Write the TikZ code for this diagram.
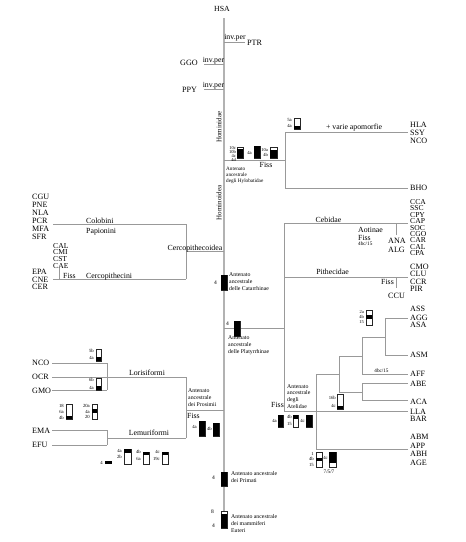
\documentclass[tikz,border=0pt]{standalone}
\usepackage{fontspec}
\setmainfont{Liberation Serif}
\tikzset{
  branch/.style={draw=gray!80, line width=0.8pt},
  stem/.style={draw=gray!60, line width=1.7pt},
  taxon/.style={font=\fontsize{8.1}{8}\selectfont, inner sep=0pt, anchor=west, text depth=0pt},
  group/.style={font=\fontsize{7.8}{8}\selectfont, inner sep=0pt, text depth=0pt},
  note/.style={font=\fontsize{5.8}{7}\selectfont, inner sep=0pt, align=left, anchor=north west},
  tag/.style={font=\fontsize{4.7}{5.5}\selectfont, inner sep=0pt, align=right, anchor=east},
  apo/.style={draw=black!85, line width=0.4pt, fill=white},
}
% x1, x2, y top, y bottom, black from, black to
\newcommand{\apobox}[6]{%
  \draw[apo] (#1,-#3) rectangle (#2,-#4);
  \fill[black] (#1,-#5) rectangle (#2,-#6);}
\begin{document}
\begin{tikzpicture}[x=1pt,y=1pt]
\useasboundingbox (0,0) rectangle (466,-542);
% tronco
\draw[stem] (224,-18) -- (224,-528);
\node[group] (hsa) at (222,-8.5) {HSA};
% Hominidae
\draw[branch] (224,-42) -- (245,-42);
\draw[branch] (204,-64) -- (224,-64);
\draw[branch] (204,-89) -- (224,-89);
\node[group, anchor=base] (per1) at (235,-39.5) {inv.per};
\node[group, anchor=base] (per2) at (213.5,-62) {inv.per};
\node[group, anchor=base] (per3) at (213.5,-87.5) {inv.per};
\node[taxon] (ptr) at (247,-42.5) {PTR};
\node[taxon] (ggo) at (180,-63) {GGO};
\node[taxon] (ppy) at (182,-89.5) {PPY};
\node[group, font=\fontsize{7}{7}\selectfont, rotate=90] (hominidae) at (219,-127) {Hominidae};
\node[group, font=\fontsize{7}{7}\selectfont, rotate=90] (hominoidea) at (219,-203) {Hominoidea};
% Hylobatidae
\draw[branch] (224,-160) -- (285,-160);
\draw[branch] (285,-132) -- (285,-188);
\draw[branch] (285,-132) -- (408,-132);
\draw[branch] (285,-188) -- (408,-188);
\foreach \n/\y in {HLA/124.5, SSY/132.5, NCO/140.5, BHO/187.5}
  \node[taxon] (h-\n) at (410,-\y) {\n};
\node[group] (apomorfie) at (354,-126.5) {+ varie apomorfie};
\apobox{294}{300}{118}{129}{126}{129}
\node[tag] (t-5a) at (292,-123) {5a\\4a};
\apobox{237}{243}{147}{158}{149}{158}
\node[tag, font=\fontsize{4.5}{3}\selectfont] (t-10c) at (236,-154) {10c\\10b\\4c\\4d};
\apobox{254}{260}{146}{158}{146}{158}
\node[tag] (t-4a) at (252,-153) {4a};
\apobox{270}{277}{147}{158}{150}{158}
\node[tag, font=\fontsize{4.5}{4.5}\selectfont] (t-10a) at (268,-152.5) {10a\\4b};
\node[group] (fiss-h) at (266,-165) {Fiss};
\node[note, font=\fontsize{5.2}{6}\selectfont] (ant-h) at (226,-167) {Antenato\\ancestrale\\degli Hylobatidae};
% Cercopithecoidea
\draw[branch] (186,-251) -- (224,-251);
\draw[branch] (186,-224) -- (186,-279);
\draw[branch] (53,-224) -- (186,-224);
\draw[branch] (53,-279) -- (186,-279);
\draw[branch] (59,-268) -- (59,-279);
\node[group] (cercopithecoidea) at (195,-247.5) {Cercopithecoidea};
\node[group, anchor=west] (colobini) at (86,-220.5) {Colobini};
\node[group, anchor=west] (papionini) at (86,-230.5) {Papionini};
\node[group, anchor=west] (cercopithecini) at (86,-276) {Cercopithecini};
\node[group, anchor=west] (fiss-c) at (63,-276) {Fiss};
\foreach \n/\y in {CGU/197, PNE/205, NLA/213, PCR/221, MFA/229, SFR/237, EPA/272, CNE/279.5, CER/287}
  \node[taxon] (c-\n) at (32,-\y) {\n};
\foreach \n/\y in {CAL/245.7, CMI/252.3, CST/259, CAE/265.5}
  \node[taxon, font=\fontsize{7.6}{7}\selectfont] (c-\n) at (53,-\y) {\n};
% Catarrhinae
\apobox{221}{227}{275}{290}{275}{290}
\node[tag, font=\fontsize{5.5}{6}\selectfont] (t-cat) at (217,-283) {4};
\node[note] (ant-cat) at (229,-272) {Antenato\\ancestrale\\delle Catarrhinae};
% Platyrrhinae
\draw[branch] (224,-328) -- (284,-328);
\draw[branch] (284,-223) -- (284,-411);
\draw[branch] (284,-223) -- (408,-223);
\draw[branch] (284,-277) -- (408,-277);
\draw[branch] (396,-223) -- (396,-235);
\draw[branch] (396,-277) -- (396,-288);
\draw[branch] (284,-411) -- (408,-411);
\node[group] (cebidae) at (328.5,-219.5) {Cebidae};
\node[group] (pithecidae) at (332.5,-272) {Pithecidae};
\node[group, anchor=west] (aotinae) at (358,-229.5) {Aotinae};
\node[group, anchor=west] (fiss-a) at (358,-238) {Fiss};
\node[group, anchor=west, font=\fontsize{5.2}{6}\selectfont] (t-aot) at (358,-243.5) {4bc/15};
\node[taxon] (p-ANA) at (388,-241) {ANA};
\node[taxon] (p-ALG) at (388,-249.5) {ALG};
\node[group] (fiss-p) at (387.5,-281.5) {Fiss};
\node[taxon] (p-CCU) at (388,-295.5) {CCU};
\foreach \n [count=\i from 0] in {CCA,SSC,CPY,CAP,SOC,CGO,CAR,CAL,CPA}
  \node[taxon, font=\fontsize{7.6}{7}\selectfont] (p-\n) at (410,-201.7-6.45*\i) {\n};
\foreach \n/\y in {CMO/266.7, CLU/274.3, CCR/281.7, PIR/289}
  \node[taxon] (p-\n) at (410,-\y) {\n};
\apobox{234}{240}{321}{336}{321}{336}
\node[tag, font=\fontsize{5.5}{6}\selectfont] (t-pla) at (229,-324) {4};
\node[note] (ant-pla) at (228,-335) {Antenato\\ancestrale\\delle Platyrrhinae};
% Atelidae
\draw[branch] (316,-374) -- (316,-449);
\draw[branch] (316,-374) -- (339,-374);
\draw[branch] (339,-356) -- (339,-392);
\draw[branch] (339,-356) -- (362,-356);
\draw[branch] (362,-337) -- (362,-374);
\draw[branch] (362,-337) -- (385,-337);
\draw[branch] (385,-318) -- (385,-355);
\draw[branch] (385,-318) -- (408,-318);
\draw[branch] (385,-355) -- (408,-355);
\draw[branch] (362,-374) -- (408,-374);
\draw[branch] (339,-392) -- (362,-392);
\draw[branch] (362,-383) -- (362,-400);
\draw[branch] (362,-383) -- (408,-383);
\draw[branch] (362,-400) -- (408,-400);
\draw[branch] (316,-449) -- (408,-449);
\foreach \n/\y in {ASS/309, AGG/317.5, ASA/325, ASM/355, AFF/373.5, ABE/383.5, ACA/401.7, LLA/411.7, BAR/419, ABM/436.8, APP/445.5, ABH/454, AGE/462.5}
  \node[taxon] (a-\n) at (410,-\y) {\n};
\node[group, font=\fontsize{5.2}{6}\selectfont] (t-aff) at (381.5,-371) {4bc/15};
\apobox{366}{372}{310}{325}{314.5}{319}
\node[tag, font=\fontsize{4.5}{5}\selectfont] (t-2a) at (364,-317) {2a\\4b\\15};
\apobox{337}{343}{394}{409}{405.5}{409}
\node[tag, font=\fontsize{4.7}{8}\selectfont] (t-16b) at (336,-402) {16b\\4c};
\node[note, font=\fontsize{5.8}{6.8}\selectfont] (ant-ate) at (287,-384) {Antenato\\ancestrale\\degli\\Atelidae};
\node[group] (fiss-at) at (277.5,-404.5) {Fiss};
\apobox{278}{283}{415}{427}{415}{427}
\node[tag] (t-4a-at) at (277,-421) {4a};
\apobox{293}{298}{415}{427}{415}{419}
\node[tag, font=\fontsize{4.7}{7}\selectfont] (t-4b-at) at (292,-420.5) {4b\\15};
\apobox{306}{312}{415}{427}{415}{427}
\node[tag] (t-4c-at) at (305,-421) {4c};
\apobox{316}{322}{452}{467}{458}{461}
\node[tag, font=\fontsize{4.7}{5.5}\selectfont] (t-1) at (314,-459) {1\\4b\\15};
\apobox{329}{336}{452}{467}{452}{463}
\node[tag] (t-4c-b) at (328,-458) {4c};
\node[group, font=\fontsize{5.2}{6}\selectfont] (t-757) at (329,-472) {7/5/7};
% Prosimii
\draw[branch] (186,-410) -- (224,-410);
\draw[branch] (186,-377) -- (186,-438);
\draw[branch] (52,-377) -- (186,-377);
\draw[branch] (52,-363) -- (107,-363);
\draw[branch] (107,-363) -- (107,-390);
\draw[branch] (52,-390) -- (107,-390);
\draw[branch] (107,-438) -- (186,-438);
\draw[branch] (107,-430) -- (107,-445);
\draw[branch] (52,-430) -- (107,-430);
\draw[branch] (52,-445) -- (107,-445);
\foreach \n/\y in {NCO/363, OCR/376.5, GMO/390.5, EMA/430.5, EFU/445}
  \node[taxon] (s-\n) at (32,-\y) {\n};
\node[group] (lorisiformi) at (147,-372.5) {Lorisiformi};
\node[group] (lemuriformi) at (149,-433) {Lemuriformi};
\node[note] (ant-pro) at (188,-388.5) {Antenato\\ancestrale\\dei Prosimii};
\node[group, anchor=west] (fiss-pr) at (187,-416) {Fiss};
\apobox{199}{205}{421}{436}{421}{436}
\node[tag] (t-4a-pr) at (197,-427) {4a};
\apobox{213}{219}{423}{436}{423}{436}
\node[tag] (t-4b-pr) at (212,-429) {4b};
\apobox{96}{101}{349}{361}{357}{361}
\node[tag, font=\fontsize{4.7}{7}\selectfont] (t-5b) at (94,-354.5) {5b\\4a};
\apobox{96}{101}{378}{390}{386}{390}
\node[tag, font=\fontsize{4.7}{8}\selectfont] (t-6b) at (94,-384) {6b\\4a};
\apobox{66}{72}{404}{419}{416}{419}
\node[tag, font=\fontsize{4.7}{6}\selectfont] (t-18) at (64,-412) {18\\6a\\4b};
\apobox{92}{97}{404}{419}{409}{413}
\node[tag, font=\fontsize{4.7}{5.5}\selectfont] (t-20a) at (90,-411.5) {20a\\4a\\20};
\fill[black] (105,-461) rectangle (112,-464);
\node[tag] (t-4-l) at (103,-462.5) {4};
\apobox{124}{131}{449}{464}{449}{453}
\node[tag, font=\fontsize{4.7}{6.5}\selectfont] (t-4a-l) at (122,-454) {4a\\2b};
\apobox{143}{149}{452}{464}{452}{455}
\node[tag, font=\fontsize{4.7}{7}\selectfont] (t-4b-l) at (141,-455.5) {4b\\6a};
\apobox{162}{168}{452}{464}{452}{455}
\node[tag, font=\fontsize{4.7}{7}\selectfont] (t-4c-l) at (160,-455.5) {4c\\19c};
% Primati, Euteri
\apobox{221}{227}{472}{486}{472}{486}
\node[tag, font=\fontsize{5.5}{6}\selectfont] (t-pri) at (215,-478) {4};
\node[note] (ant-pri) at (231,-471.5) {Antenato ancestrale\\dei Primati};
\apobox{221}{227}{511}{528}{514}{528}
\node[tag, font=\fontsize{5.5}{6}\selectfont] (t-8) at (214,-512) {8};
\node[tag, font=\fontsize{5.5}{6}\selectfont] (t-4-e) at (215,-526) {4};
\node[note] (ant-eut) at (231,-514.5) {Antenato ancestrale\\dei mammiferi\\Euteri};
\end{tikzpicture}
\end{document}
